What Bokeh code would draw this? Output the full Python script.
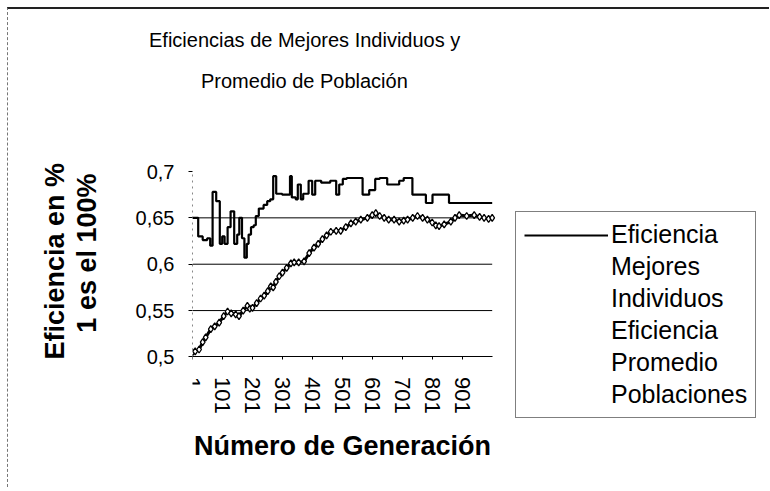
from bokeh.plotting import figure
from bokeh.models import FixedTicker, Legend, LegendItem, Range1d, Title
from bokeh.embed import file_html
from bokeh.resources import INLINE

FONT = "Liberation Sans"

# ---- texts ----
title_line1 = "Eficiencias de Mejores Individuos y"
title_line2 = "Promedio de Población"
x_label = "Número de Generación"
y_label_line1 = "Eficiencia en %"
y_label_line2 = "1 es el 100%"
legend_best = ["Eficiencia", "Mejores", "Individuos"]
legend_avg = ["Eficiencia", "Promedio", "Poblaciones"]

# ---- axes ----
x_ticks = [1, 101, 201, 301, 401, 501, 601, 701, 801, 901]
x_first, x_last = 1, 1000
y_ticks = [0.5, 0.55, 0.6, 0.65, 0.7]
y_tick_labels = ["0,5", "0,55", "0,6", "0,65", "0,7"]
grid_ticks = [0.55, 0.6, 0.65]

# ---- data: best individual efficiency (value holds from gen until next gen) ----
best_gen = [1, 20, 35, 50, 60, 68, 80, 92, 100, 108, 118, 128, 140, 150, 157, 166,
            174, 182, 188, 196, 205, 212, 222, 238, 250, 260, 270, 280, 300, 326,
            332, 345, 352, 362, 370, 388, 400, 410, 430, 460, 480, 490, 502, 515,
            568, 590, 610, 625, 650, 690, 705, 734, 779, 801, 856, 1000]
best_val = [0.650, 0.630, 0.626, 0.628, 0.620, 0.678, 0.668, 0.622, 0.630, 0.622,
            0.640, 0.657, 0.622, 0.632, 0.650, 0.628, 0.607, 0.622, 0.632, 0.640,
            0.642, 0.652, 0.660, 0.664, 0.668, 0.670, 0.695, 0.676, 0.675, 0.695,
            0.672, 0.670, 0.686, 0.670, 0.676, 0.690, 0.675, 0.690, 0.688, 0.690,
            0.675, 0.686, 0.692, 0.693, 0.675, 0.680, 0.692, 0.693, 0.686, 0.690,
            0.693, 0.675, 0.666, 0.675, 0.666, 0.666]

# ---- data: population average efficiency ----
avg_gen = [1, 10, 23, 35, 45, 62, 75, 90, 105, 118, 130, 145, 156, 170, 184, 192,
           201, 215, 228, 240, 252, 262, 270, 279, 290, 301, 315, 329, 340, 355,
           373, 390, 406, 420, 434, 448, 462, 480, 495, 512, 529, 545, 562, 584,
           600, 612, 625, 640, 655, 673, 690, 705, 718, 735, 751, 768, 784, 800,
           812, 823, 840, 862, 876, 890, 915, 940, 958, 973, 988, 1000]
avg_val = [0.505, 0.506, 0.508, 0.516, 0.521, 0.530, 0.533, 0.537, 0.544, 0.549,
           0.547, 0.546, 0.544, 0.550, 0.555, 0.552, 0.553, 0.558, 0.563, 0.566,
           0.571, 0.576, 0.575, 0.581, 0.587, 0.591, 0.596, 0.601, 0.602, 0.602,
           0.603, 0.612, 0.618, 0.622, 0.627, 0.631, 0.635, 0.636, 0.636, 0.640,
           0.644, 0.646, 0.648, 0.650, 0.653, 0.655, 0.652, 0.650, 0.648, 0.648,
           0.646, 0.647, 0.648, 0.650, 0.652, 0.650, 0.648, 0.645, 0.642, 0.641,
           0.643, 0.646, 0.650, 0.653, 0.652, 0.653, 0.651, 0.650, 0.649, 0.650]

# ---- layout: the frame spans to the right/bottom edges so the legend and the
# axis texts are not clipped; the plotted area itself is gens 1..1000, 0.5..0.7
W, H = 762, 480
LEFT, TOP = 184, 161
PX_PER_GEN = 0.3
PX_PER_UNIT = 930.0
frame_w = W - LEFT
frame_h = H - TOP
x_end = x_first + frame_w / PX_PER_GEN
y_start = 0.7 - frame_h / PX_PER_UNIT

p = figure(width=W, height=H, output_backend="svg", toolbar_location=None,
           x_range=Range1d(x_first, x_end), y_range=Range1d(y_start, 0.7),
           min_border_left=LEFT, min_border_right=0,
           min_border_top=TOP, min_border_bottom=0)
p.outline_line_color = None
p.background_fill_color = "white"
p.border_fill_color = "white"
p.styles = {"margin-top": "7px", "margin-left": "7px",
            "border-top": "2px solid #222", "border-left": "1px dashed #777"}

# x axis, pinned at 0.5 and bounded to the generations
xa = p.xaxis[0]
xa.fixed_location = 0.5
xa.bounds = (x_first, x_last)
xa.ticker = FixedTicker(ticks=x_ticks)
xa.major_label_orientation = "vertical"
xa.major_label_text_font = FONT
xa.major_label_text_font_size = "22px"
xa.major_label_text_color = "black"
xa.major_label_standoff = 17
xa.major_tick_out = 3
xa.major_tick_in = 0
xa.minor_tick_out = 0
xa.minor_tick_in = 0
xa.axis_line_color = "black"
xa.axis_line_width = 1.2
xa.axis_label = x_label
xa.axis_label_text_font = FONT
xa.axis_label_text_font_style = "bold"
xa.axis_label_text_font_size = "27px"
xa.axis_label_text_color = "black"
xa.axis_label_standoff = 15

ya = p.yaxis[0]
ya.bounds = (0.5, 0.7)
ya.ticker = FixedTicker(ticks=y_ticks)
ya.major_label_overrides = dict(zip(y_ticks, y_tick_labels))
ya.major_label_text_font = FONT
ya.major_label_text_font_size = "20px"
ya.major_label_text_color = "black"
ya.major_label_standoff = 14
ya.major_tick_out = 4
ya.major_tick_in = 0
ya.minor_tick_out = 0
ya.minor_tick_in = 0
ya.axis_line_color = "#888888"
ya.axis_line_dash = "2 4"

# y axis title: two bold lines in the left panel, outward from the axis
p.add_layout(Title(text=" ", text_font_size="1px", standoff=28), "left")
p.add_layout(Title(text=y_label_line2, align="right", offset=2, standoff=0,
                   text_font=FONT, text_font_size="27px", text_font_style="bold",
                   text_color="black"), "left")
p.add_layout(Title(text=y_label_line1, align="right", offset=-8.5, standoff=0,
                   text_font=FONT, text_font_size="27px", text_font_style="bold",
                   text_color="black"), "left")

p.xgrid.visible = False
p.ygrid.visible = False
# horizontal gridlines across the plotted generations only
p.segment(x0=[x_first] * len(grid_ticks), x1=[x_last] * len(grid_ticks),
          y0=grid_ticks, y1=grid_ticks, line_color="black", line_width=1)

# series
best_r = p.step(best_gen, best_val, mode="after", line_color="black", line_width=2.2)
p.line(avg_gen, avg_val, line_color="black", line_width=3)
p.scatter(avg_gen, avg_val, marker="diamond", size=7, fill_color="white",
          line_color="black", line_width=1.3)

# legend samples
leg_line = p.line(x=[], y=[], line_color="#444444", line_width=1.2, line_dash="3 6")
leg_pts = p.scatter(x=[], y=[], marker="circle", size=5, fill_color="white",
                    line_color="#444444", line_width=1.2)
leg_blank = p.line(x=[], y=[], line_alpha=0)

items = [LegendItem(label=legend_best[0], renderers=[best_r])]
items += [LegendItem(label=t, renderers=[leg_blank]) for t in legend_best[1:]]
items += [LegendItem(label=legend_avg[0], renderers=[leg_line, leg_pts])]
items += [LegendItem(label=t, renderers=[leg_blank]) for t in legend_avg[1:]]

legend = Legend(items=items, location=(323, 71))
legend.label_text_font = FONT
legend.label_text_font_size = "25px"
legend.label_text_color = "black"
legend.glyph_width = 84
legend.glyph_height = 20
legend.label_standoff = 3
legend.padding = 8
legend.spacing = 3
legend.margin = 0
legend.border_line_color = "black"
legend.border_line_width = 1
legend.background_fill_color = "white"
legend.background_fill_alpha = 1
p.add_layout(legend)

# title: spacer, then two lines stacked outward from the frame
p.add_layout(Title(text=" ", text_font_size="1px", standoff=77), "above")
p.add_layout(Title(text=title_line2, align="left", offset=8.5, standoff=0,
                   text_font=FONT, text_font_size="20px", text_font_style="normal",
                   text_color="black"), "above")
p.add_layout(Title(text=title_line1, align="left", offset=-43.5, standoff=34,
                   text_font=FONT, text_font_size="20px", text_font_style="normal",
                   text_color="black"), "above")

open("out.html", "w").write(file_html(p, INLINE))
